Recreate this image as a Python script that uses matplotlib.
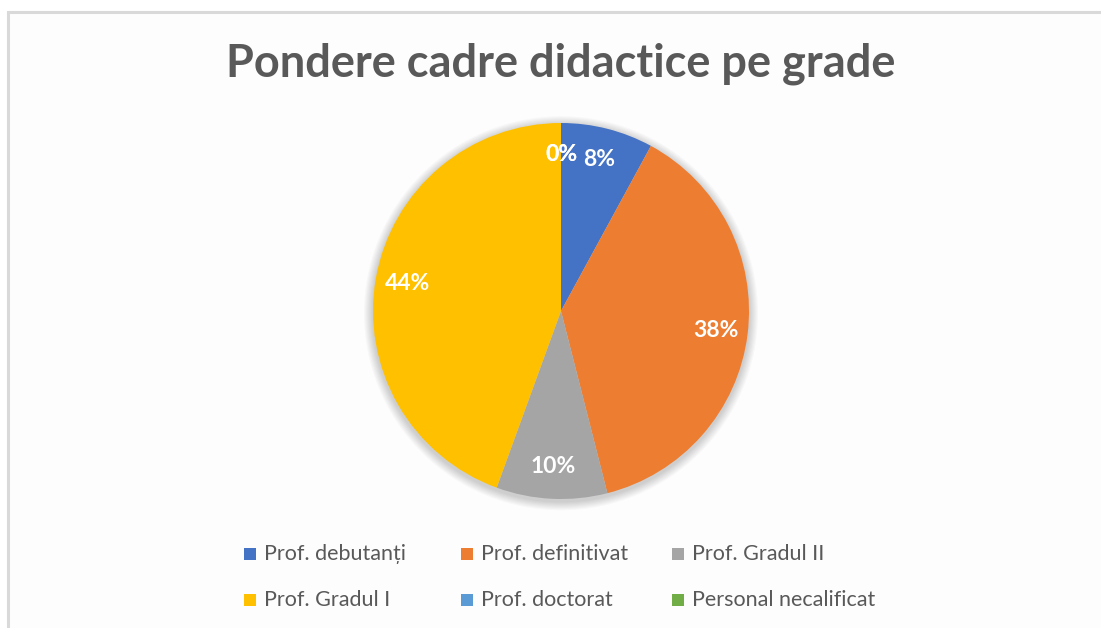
import matplotlib
matplotlib.use("Agg")
import matplotlib.pyplot as plt
from matplotlib.patches import Rectangle, Circle
import numpy as np

categories = ["Prof. debutanți", "Prof. definitivat", "Prof. Gradul II",
              "Prof. Gradul I", "Prof. doctorat", "Personal necalificat"]
values = [5, 24, 6, 28, 0, 0]
pct_labels = ["8%", "38%", "10%", "44%", "0%", "0%"]
colors = ["#4472C4", "#ED7D31", "#A5A5A5", "#FFC000", "#5B9BD5", "#70AD47"]
title = "Pondere cadre didactice pe grade"

W, H = 1101, 628
fig = plt.figure(figsize=(W / 100, H / 100), dpi=100)
fig.patch.set_facecolor("white")

# chart area background with diagonal hatch and border
plt.rcParams["hatch.color"] = "#e9e9e9"
plt.rcParams["hatch.linewidth"] = 3.0
bg = Rectangle((8 / W, -0.05), 1.2, 1 - 12 / H + 0.05, transform=fig.transFigure,
               facecolor="#fdfdfd", edgecolor="none", hatch="\\\\", zorder=0)
fig.patches.append(bg)
border = Rectangle((8 / W, -0.05), 1.2, 1 - 12 / H + 0.05, transform=fig.transFigure,
                   facecolor="none", edgecolor="#d9d9d9", linewidth=2.2, zorder=1)
fig.patches.append(border)

fig.text(561 / W, 1 - 64 / H, title, ha="center", va="center",
         fontsize=32.5, fontweight="bold", color="#595959", family="Lato", zorder=3)

cx, cy, r = 561, 311, 188
ax = fig.add_axes([(cx - r) / W, (H - cy - r) / H, 2 * r / W, 2 * r / H])
ax.set_zorder(2)

wedges, _ = ax.pie(values, colors=colors, startangle=90, counterclock=False,
                   radius=1.0, wedgeprops=dict(linewidth=0, zorder=2))
ax.patch.set_visible(False)
ax.set_xlim(-1, 1)
ax.set_ylim(-1, 1)
ax.set_aspect("equal")
ax.axis("off")

# soft shadow
for i in range(8):
    ax.add_patch(Circle((0.0, -0.012), 1.0 + 0.006 * (i + 1), facecolor="#000000",
                        alpha=0.022, edgecolor="none", zorder=0, clip_on=False))

total = sum(values)
cum = 0
for v, lab in zip(values, pct_labels):
    mid = (cum + v / 2) / total * 360
    cum += v
    ang = np.deg2rad(90 - mid)
    d = 0.83
    x, y = d * np.cos(ang), d * np.sin(ang)
    ax.text(x, y, lab, ha="center", va="center", color="white", fontsize=16.5,
            fontweight="bold", family="Lato", zorder=5)

# legend (3 columns x 2 rows, row-major like the original)
col_x = [250, 467, 678]
row_y = [554, 600]
for i, (lab, c) in enumerate(zip(categories, colors)):
    xm = col_x[i % 3]
    ym = row_y[i // 3]
    fig.patches.append(Rectangle(((xm - 6) / W, 1 - (ym + 6) / H), 12 / W, 12 / H,
                                 transform=fig.transFigure, facecolor=c,
                                 edgecolor="none", zorder=3))
    fig.text((xm + 14) / W, 1 - ym / H, lab, ha="left", va="center",
             fontsize=15.5, color="#595959", family="Lato", zorder=3)

fig.savefig("out.png", dpi=100, facecolor="white")
